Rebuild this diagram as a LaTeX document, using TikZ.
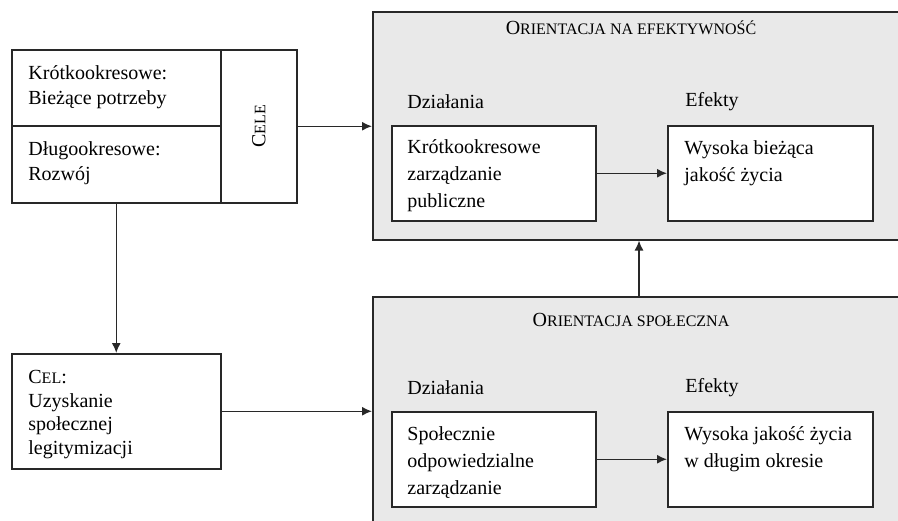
\documentclass[tikz,border=0pt]{standalone}
\usepackage{fontspec}
\setmainfont{Liberation Serif}
\usetikzlibrary{calc}
\usetikzlibrary{positioning}
\usetikzlibrary{arrows.meta}
\definecolor{panelgrey}{RGB}{233,233,233}
\definecolor{linegrey}{RGB}{40,40,40}

\begin{document}
\begin{tikzpicture}[
		x=0.5pt, y=-0.5pt,
		every node/.append style={font=\fontsize{10}{13.5}\selectfont},
		panel/.style={
			fill=panelgrey,
			draw=linegrey,
			line width=0.75pt,
			rectangle,
			anchor=north west},
		cell/.style={
			fill=white,
			draw=linegrey,
			line width=0.75pt,
			rectangle,
			anchor=north west},
		cell_txt/.style={
			anchor=north west,
			align=left,
			inner sep=0pt},
		caption/.style={
			anchor=west,
			inner sep=0pt},
		conn/.style={
			draw=linegrey,
			line width=0.75pt,
			-{Latex[length=5pt,width=4.5pt]}},
		]

		\useasboundingbox (0,0) rectangle (898,520);

		%Goals
		\node (short)[cell, minimum width=104.5pt, minimum height=38pt] at (11,49) {};
		\node (long)[cell, minimum width=104.5pt, minimum height=38.5pt] at (11,125) {};
		\node (cele)[cell, minimum width=38pt, minimum height=76.5pt] at (220,49) {};
		\node at (cele.center) [rotate=90, inner sep=0pt] {C{\footnotesize ELE}};
		\node at ($(short.north west) + (17,16)$) [cell_txt, font=\fontsize{10}{12.5}\selectfont] {Krótkookresowe:\\Bieżące potrzeby};
		\node at ($(long.north west) + (17,16)$) [cell_txt, font=\fontsize{10}{12.5}\selectfont] {Długookresowe:\\Rozwój};

		%Legitimacy goal
		\node (goal)[cell, minimum width=104.5pt, minimum height=57.5pt] at (11,353) {};
		\node at ($(goal.north west) + (17,17)$) [cell_txt, font=\fontsize{10}{11.8}\selectfont] {C{\footnotesize EL}:\\Uzyskanie\\społecznej\\legitymizacji};

		%Efficiency orientation
		\node (effic)[panel, minimum width=300pt, minimum height=114pt] at (372,11) {};
		\node at (631,28) [inner sep=0pt] {O{\footnotesize RIENTACJA NA EFEKTYWNOŚĆ}};
		\node at (407,102) [caption] {Działania};
		\node at (685,102) [caption] {Efekty};
		\node (act_eff)[cell, minimum width=102pt, minimum height=47.5pt] at (391,125) {};
		\node (res_eff)[cell, minimum width=102.5pt, minimum height=47.5pt] at (667,125) {};
		\node at ($(act_eff.north west) + (16,14)$) [cell_txt] {Krótkookresowe\\zarządzanie\\publiczne};
		\node at ($(res_eff.north west) + (17,15)$) [cell_txt] {Wysoka bieżąca\\jakość życia};

		%Social orientation
		\node (social)[panel, minimum width=300pt, minimum height=132pt] at (372,296) {};
		\node at (631,320) [inner sep=0pt] {O{\footnotesize RIENTACJA SPOŁECZNA}};
		\node at (407,388) [caption] {Działania};
		\node at (685,388) [caption] {Efekty};
		\node (act_soc)[cell, minimum width=102pt, minimum height=47.5pt] at (391,411) {};
		\node (res_soc)[cell, minimum width=102.5pt, minimum height=47.5pt] at (667,411) {};
		\node at ($(act_soc.north west) + (16,15)$) [cell_txt] {Społecznie\\odpowiedzialne\\zarządzanie};
		\node at ($(res_soc.north west) + (17,15)$) [cell_txt] {Wysoka jakość życia\\w długim okresie};

		%Connectors
		\draw[conn] (cele.east) -- (cele.east -| effic.west);
		\draw[conn] (long.south) -- (goal.north);
		\draw[conn] (goal.east) -- (goal.east -| social.west);
		\draw[conn] (act_eff.east) -- (res_eff.west);
		\draw[conn] (act_soc.east) -- (res_soc.west);
		\draw[conn] (social.north -| 639,0) -- (effic.south -| 639,0);

	\end{tikzpicture}
\end{document}
